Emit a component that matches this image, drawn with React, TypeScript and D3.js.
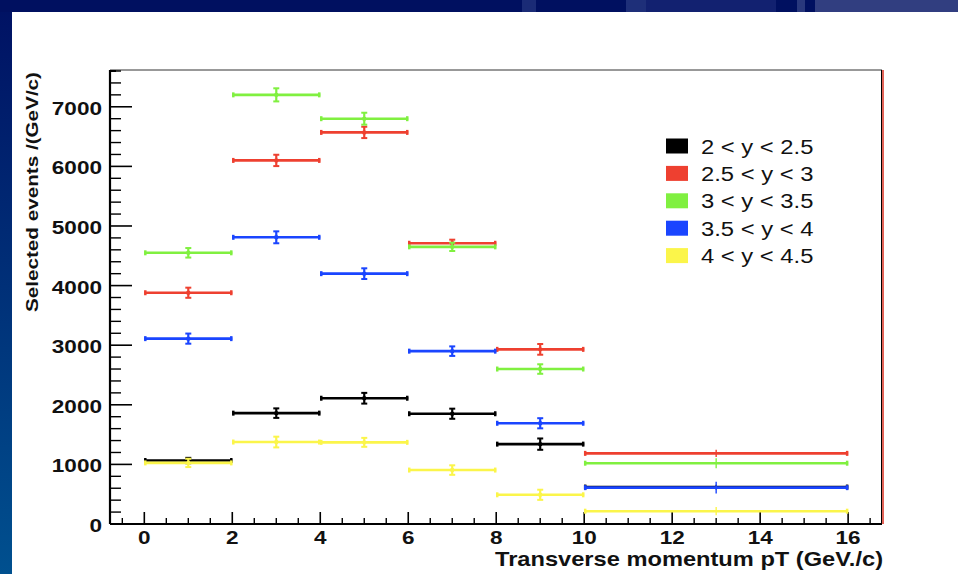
import React from "react";
import * as d3 from "d3";

// pT bin edges (GeV/c) and the rapidity slices
const binEdges = [0, 2, 4, 6, 8, 10, 16];
const seriesNames = ["2 < y < 2.5", "2.5 < y < 3", "3 < y < 3.5", "3.5 < y < 4", "4 < y < 4.5"];
const seriesColors = ["#000000", "#ee4030", "#80f040", "#1a45ff", "#fbf54a"];

// Selected events per GeV/c, one array per rapidity slice
const black = [1065, 1860, 2110, 1850, 1340, 620];
const red = [3880, 6100, 6570, 4710, 2930, 1185];
const green = [4550, 7200, 6800, 4650, 2600, 1020];
const blue = [3110, 4810, 4200, 2900, 1690, 610];
const yellow = [1025, 1375, 1370, 905, 490, 215];

// Statistical errors
const blackErr = [45, 80, 90, 85, 95, 40];
const redErr = [85, 95, 95, 60, 90, 60];
const greenErr = [80, 110, 100, 70, 80, 85];
const blueErr = [85, 100, 90, 80, 85, 100];
const yellowErr = [70, 90, 75, 80, 85, 70];

const xTickValues = [0, 2, 4, 6, 8, 10, 12, 14, 16];
const yTickValues = [0, 1000, 2000, 3000, 4000, 5000, 6000, 7000];

const seriesValues = [black, red, green, blue, yellow];
const seriesErrors = [blackErr, redErr, greenErr, blueErr, yellowErr];

const W = 958;
const H = 574;
const frame = { left: 110, right: 882, top: 70, bottom: 524 };
const FONT = "'Liberation Sans', Arial, Helvetica, sans-serif";

export default function App() {
  const x = d3.scaleLinear().domain([-0.78, 16.77]).range([frame.left, frame.right]);
  const y = d3.scaleLinear().domain([0, 7617]).range([frame.bottom, frame.top]);

  const xMinor = d3.range(-0.5, 16.75, 0.5).filter((v) => Math.abs(v % 2) > 1e-6);
  const yMinor = d3.range(200, 7617, 200).filter((v) => v % 1000 !== 0);

  const bins = binEdges.slice(0, -1).map((lo, i) => ({ lo, hi: binEdges[i + 1], c: (lo + binEdges[i + 1]) / 2 }));

  return (
    <svg width={W} height={H} style={{ position: "absolute", left: 0, top: 0 }} fontFamily={FONT}>
      <defs>
        <linearGradient id="slideBg" x1="0" y1="0" x2="0" y2="1">
          <stop offset="0" stopColor="#001163" />
          <stop offset="0.5" stopColor="#003078" />
          <stop offset="1" stopColor="#00508f" />
        </linearGradient>
      </defs>
      {/* slide background */}
      <rect x={0} y={0} width={W} height={H} fill="url(#slideBg)" />
      <rect x={0} y={0} width={W} height={12} fill="#001060" />
      <rect x={522} y={0} width={14} height={12} fill="#2b3d85" opacity={0.6} />
      <rect x={626} y={0} width={20} height={12} fill="#2b3d85" opacity={0.7} />
      <rect x={646} y={0} width={130} height={12} fill="#1a2a78" opacity={0.7} />
      <rect x={797} y={0} width={8} height={12} fill="#3a4a8a" opacity={0.7} />
      <rect x={815} y={0} width={143} height={12} fill="#313e80" />
      {/* white page */}
      <rect x={12} y={12} width={W - 12} height={H - 12} fill="#ffffff" />

      {/* frame top and right */}
      <line x1={frame.left} x2={frame.right} y1={frame.top} y2={frame.top} stroke="#333" strokeWidth={1} />
      <line x1={frame.left} x2={frame.left + 6} y1={frame.top + 1} y2={frame.top + 1} stroke="#000" strokeWidth={2} />
      <line x1={frame.right - 0.5} x2={frame.right - 0.5} y1={frame.top} y2={frame.bottom} stroke="#000" strokeWidth={1} />
      <line x1={frame.right + 1} x2={frame.right + 1} y1={frame.top} y2={frame.bottom} stroke="#d83020" strokeWidth={1.5} />

      {/* x axis */}
      <line x1={frame.left} x2={frame.right} y1={frame.bottom} y2={frame.bottom} stroke="#000" strokeWidth={2.2} />
      {xTickValues.map((v) => (
        <line key={"xM" + v} x1={x(v)} x2={x(v)} y1={frame.bottom} y2={frame.bottom - 12} stroke="#000" strokeWidth={1.6} />
      ))}
      {xMinor.map((v) => (
        <line key={"xm" + v} x1={x(v)} x2={x(v)} y1={frame.bottom} y2={frame.bottom - 6} stroke="#000" strokeWidth={1.4} />
      ))}
      {xTickValues.map((v) => (
        <text
          key={"xl" + v}
          transform={`translate(${x(v)},${frame.bottom + 19.5}) scale(1.25,1)`}
          textAnchor="middle"
          fontSize={18}
          fontWeight="bold"
          fill="#111"
        >
          {v}
        </text>
      ))}
      <text
        x={495}
        y={566}
        fontSize={20.5}
        fontWeight="bold"
        fill="#111"
        textLength={388}
        lengthAdjust="spacingAndGlyphs"
      >
        Transverse momentum pT (GeV./c)
      </text>

      {/* y axis */}
      <line x1={frame.left} x2={frame.left} y1={frame.top} y2={frame.bottom} stroke="#000" strokeWidth={2.2} />
      {yTickValues.map((v) => (
        <line key={"yM" + v} x1={frame.left} x2={frame.left + 22} y1={y(v)} y2={y(v)} stroke="#000" strokeWidth={1.6} />
      ))}
      {yMinor.map((v) => (
        <line key={"ym" + v} x1={frame.left} x2={frame.left + 11} y1={y(v)} y2={y(v)} stroke="#000" strokeWidth={1.4} />
      ))}
      {yTickValues.map((v) => (
        <text
          key={"yl" + v}
          transform={`translate(102,${y(v) + 8}) scale(1.22,1)`}
          textAnchor="end"
          fontSize={18.5}
          fontWeight="bold"
          fill="#111"
        >
          {v}
        </text>
      ))}
      <text
        transform="translate(37.5,192) rotate(-90)"
        textAnchor="middle"
        fontSize={17}
        fontWeight="bold"
        fill="#111"
        textLength={240}
        lengthAdjust="spacingAndGlyphs"
      >
        Selected events /(GeV/c)
      </text>

      {/* data: horizontal bin-width bars with vertical statistical errors */}
      {seriesValues.map((vals, s) => {
        const col = seriesColors[s];
        return (
          <g key={"s" + s} stroke={col} fill={col}>
            {bins.map((b, i) => {
              const cy = y(vals[i]);
              const e = seriesErrors[s][i];
              const x0 = x(b.lo);
              const x1 = x(b.hi);
              const cx = x(b.c);
              const narrow = b.hi - b.lo <= 2;
              return (
                <g key={i}>
                  <line x1={x0} x2={x1} y1={cy} y2={cy} strokeWidth={2.6} />
                  <line x1={x0 + 1} x2={x0 + 1} y1={cy - 2.5} y2={cy + 2.5} strokeWidth={2.5} />
                  <line x1={x1 - 1} x2={x1 - 1} y1={cy - 2.5} y2={cy + 2.5} strokeWidth={2.5} />
                  <line x1={cx} x2={cx} y1={y(vals[i] + e)} y2={y(vals[i] - e)} strokeWidth={narrow ? 2.2 : 1.4} />
                  {narrow && (
                    <>
                      <line x1={cx - 3} x2={cx + 3} y1={y(vals[i] + e)} y2={y(vals[i] + e)} strokeWidth={2} />
                      <line x1={cx - 3} x2={cx + 3} y1={y(vals[i] - e)} y2={y(vals[i] - e)} strokeWidth={2} />
                      <circle cx={cx} cy={cy} r={2.2} stroke="none" />
                    </>
                  )}
                </g>
              );
            })}
          </g>
        );
      })}

      {/* legend */}
      {seriesNames.map((name, i) => {
        const ry = 146 + i * 27.4;
        return (
          <g key={"lg" + i}>
            <rect x={666} y={ry - 7.5} width={22} height={15} fill={seriesColors[i]} />
            <text
              transform={`translate(701,${ry + 7.5}) scale(1.22,1)`}
              fontSize={19.5}
              fill="#111"
            >
              {name}
            </text>
          </g>
        );
      })}
    </svg>
  );
}
